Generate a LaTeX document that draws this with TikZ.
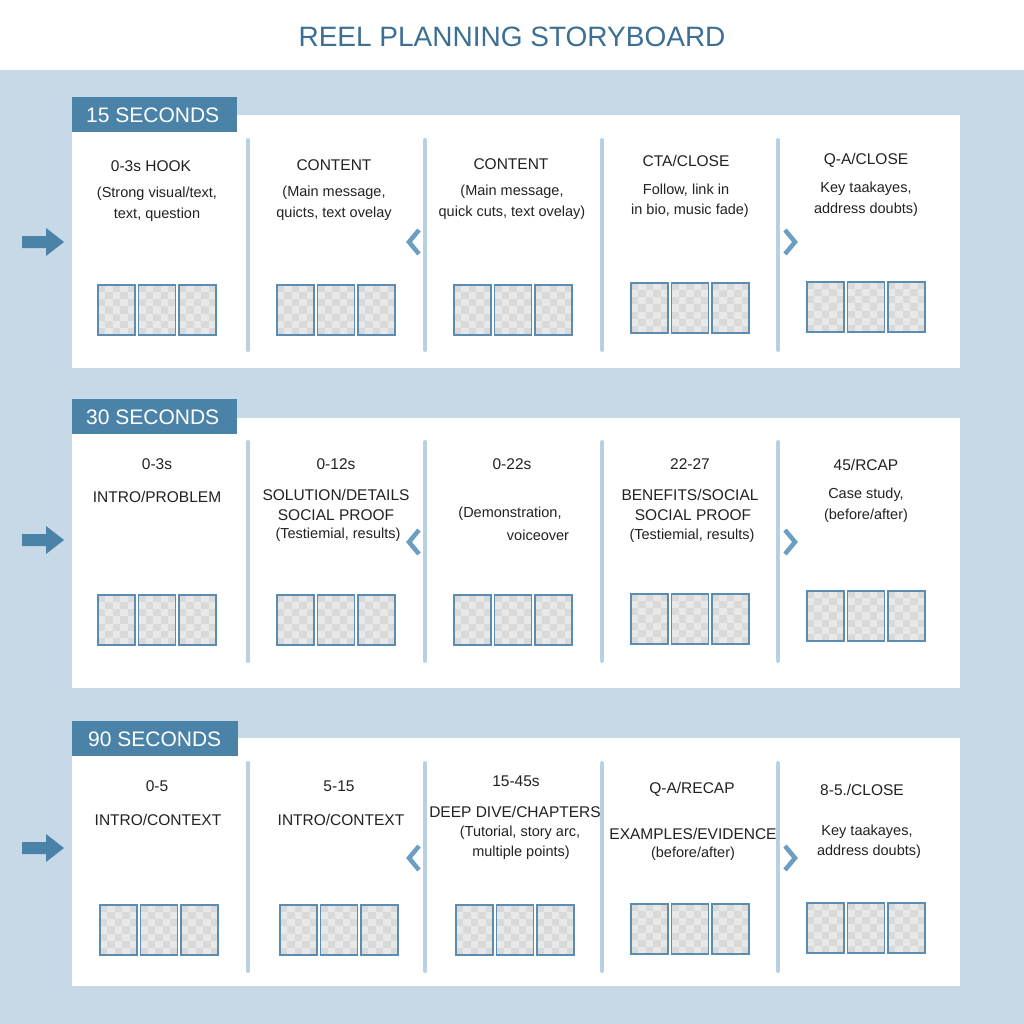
\documentclass[tikz,border=0pt]{standalone}
\usepackage{fontspec}
\setmainfont{Liberation Sans}
\usetikzlibrary{positioning}
\definecolor{bgblue}{HTML}{C7D9E7}
\definecolor{tabblue}{HTML}{4B83A8}
\definecolor{divblue}{HTML}{B9D0E3}
\definecolor{chevblue}{HTML}{6C9DC2}
\definecolor{titleblue}{HTML}{3C6F93}
\definecolor{frameblue}{HTML}{5B8DB2}
\definecolor{txt}{HTML}{222222}
\tikzset{
  panel/.style={fill=white,draw=none},
  tab/.style={fill=tabblue,text=white,font=\fontsize{21}{24}\selectfont,anchor=west,inner sep=0pt},
  head/.style={text=txt,font=\fontsize{15.5}{18}\selectfont,anchor=center,inner sep=0pt},
  body/.style={text=txt,font=\fontsize{14.5}{17}\selectfont,anchor=center,inner sep=0pt},
  divider/.style={draw=divblue,line width=4pt,line cap=round},
  chevron/.style={draw=chevblue,line width=4.5pt},
  bigarrow/.style={fill=tabblue,draw=none}
}
\newcommand{\thumbs}[2]{%
  \foreach \k in {-1,0,1}{
    \begin{scope}[shift={(#1+\k*40.5-18.5,#2)}]
      \fill[gray!18] (0,0) rectangle (37,50);
      \foreach \i in {0,...,4}{\foreach \j in {0,...,6}{
        \pgfmathtruncatemacro{\checkpar}{mod(\i+\j,2)}
        \ifnum\checkpar=0 \fill[gray!30] (\i*7.4,\j*7.15) rectangle ++(7.4,7.15);\fi}}
      \draw[frameblue,line width=1.5pt] (0,0) rectangle (37,50);
    \end{scope}}}
\newcommand{\fatarrow}[1]{%
  \fill[tabblue] (22,#1-6) -- (46,#1-6) -- (46,#1-14) -- (64,#1) -- (46,#1+14) -- (46,#1+6) -- (22,#1+6) -- cycle;}
\begin{document}
\begin{tikzpicture}[x=1pt,y=-1pt]
  \useasboundingbox (0,0) rectangle (1024,1024);
  \fill[white] (0,0) rectangle (1024,70);
  \fill[bgblue] (0,70) rectangle (1024,1024);
  \node[text=titleblue,font=\fontsize{28}{32}\selectfont] (title) at (512,37) {REEL PLANNING STORYBOARD};

  % panels and tabs
  \fill[white] (72,115) rectangle (960,368);
  \fill[white] (72,418) rectangle (960,688);
  \fill[white] (72,738) rectangle (960,986);
  \fill[tabblue] (72,97) rectangle (237,132);
  \fill[tabblue] (72,399) rectangle (237,434);
  \fill[tabblue] (72,721) rectangle (238,756);
  \node[tab,fill=none] (tab15) at (86,115) {15 SECONDS};
  \node[tab,fill=none] (tab30) at (86,417) {30 SECONDS};
  \node[tab,fill=none] (tab90) at (88,739) {90 SECONDS};

  % dividers
  \foreach \x in {248,425,602,778}{
    \draw[divider] (\x,140) -- (\x,350);
    \draw[divider] (\x,442) -- (\x,661);
    \draw[divider] (\x,763) -- (\x,971);
  }
  % chevrons
  \foreach \y in {242,542,858}{
    \draw[chevron] (419,\y-12) -- (409,\y) -- (419,\y+12);
    \draw[chevron] (785,\y-12) -- (795,\y) -- (785,\y+12);
  }
  % entry arrows
  \fatarrow{242}
  \fatarrow{540}
  \fatarrow{848}

  % thumbnails
  \thumbs{157}{285} \thumbs{336}{285} \thumbs{513}{285} \thumbs{690}{283} \thumbs{866}{282}
  \thumbs{157}{595} \thumbs{336}{595} \thumbs{513}{595} \thumbs{690}{594} \thumbs{866}{591}
  \thumbs{159}{905} \thumbs{339}{905} \thumbs{515}{905} \thumbs{690}{904} \thumbs{866}{903}

  % row 15 seconds
  \node[head] (a1) at (151,166) {0-3s HOOK};
  \node[body] (a1b) at (157,194) {(Strong visual/text,};
  \node[body] (a1c) at (157,215) {text, question};
  \node[head] (a2) at (334,165) {CONTENT};
  \node[body] (a2b) at (334,193) {(Main message,};
  \node[body] (a2c) at (334,214) {quicts, text ovelay};
  \node[head] (a3) at (511,164) {CONTENT};
  \node[body] (a3b) at (512,192) {(Main message,};
  \node[body] (a3c) at (512,213) {quick cuts, text ovelay)};
  \node[head] (a4) at (686,161) {CTA/CLOSE};
  \node[body] (a4b) at (686,190) {Follow, link in};
  \node[body] (a4c) at (690,211) {in bio, music fade)};
  \node[head] (a5) at (866,160) {Q-A/CLOSE};
  \node[body] (a5b) at (866,189) {Key taakayes,};
  \node[body] (a5c) at (866,210) {address doubts)};

  % row 30 seconds
  \node[head] (b1) at (157,464) {0-3s};
  \node[head] (b1b) at (157,497) {INTRO/PROBLEM};
  \node[head] (b2) at (336,464) {0-12s};
  \node[head] (b2b) at (336,495) {SOLUTION/DETAILS};
  \node[head] (b2c) at (336,515) {SOCIAL PROOF};
  \node[body] (b2d) at (338,535) {(Testiemial, results)};
  \node[head] (b3) at (512,464) {0-22s};
  \node[body] (b3b) at (510,514) {(Demonstration,};
  \node[body] (b3c) at (538,535) {voiceover};
  \node[head] (b4) at (690,464) {22-27};
  \node[head] (b4b) at (690,495) {BENEFITS/SOCIAL};
  \node[head] (b4c) at (693,515) {SOCIAL PROOF};
  \node[body] (b4d) at (692,536) {(Testiemial, results)};
  \node[head] (b5) at (866,465) {45/RCAP};
  \node[body] (b5b) at (866,495) {Case study,};
  \node[body] (b5c) at (866,516) {(before/after)};

  % row 90 seconds
  \node[head] (c1) at (157,786) {0-5};
  \node[head] (c1b) at (158,820) {INTRO/CONTEXT};
  \node[head] (c2) at (339,786) {5-15};
  \node[head] (c2b) at (341,820) {INTRO/CONTEXT};
  \node[head] (c3) at (516,781) {15-45s};
  \node[head] (c3b) at (515,812) {DEEP DIVE/CHAPTERS};
  \node[body] (c3c) at (520,833) {(Tutorial, story arc,};
  \node[body] (c3d) at (521,853) {multiple points)};
  \node[head] (c4) at (692,789) {Q-A/RECAP};
  \node[head] (c4b) at (693,834) {EXAMPLES/EVIDENCE};
  \node[body] (c4c) at (693,854) {(before/after)};
  \node[head] (c5) at (862,790) {8-5./CLOSE};
  \node[body] (c5b) at (867,832) {Key taakayes,};
  \node[body] (c5c) at (869,852) {address doubts)};
\end{tikzpicture}
\end{document}
